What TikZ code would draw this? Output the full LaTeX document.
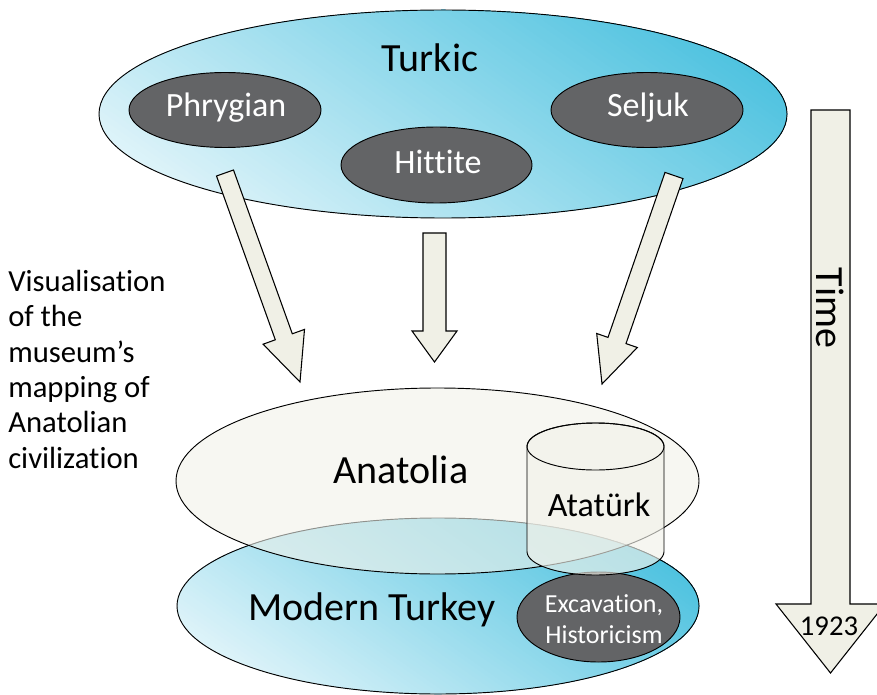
\documentclass[tikz,border=0pt]{standalone}
\usepackage{fontspec}
\setmainfont[Ligatures=NoCommon]{Carlito}
\usetikzlibrary{calc}
\definecolor{tealdark}{HTML}{50C3E0}
\definecolor{teallight}{HTML}{DDF3F9}
\definecolor{beige}{HTML}{F0F0E6}
\definecolor{anafill}{HTML}{F2F2EA}
\definecolor{darkgrey}{HTML}{636466}
\begin{document}
\begin{tikzpicture}[x=0.75pt,y=-0.75pt,
  outline/.style={draw=black, line width=0.7pt},
  darkell/.style={draw=black, line width=0.7pt, fill=darkgrey},
  blockarrow/.style={draw=black, line width=0.8pt, fill=beige, line join=miter},
  lbl/.style={inner sep=0pt, font=\fontsize{30}{36}\selectfont},
  wlbl/.style={inner sep=0pt, text=white, font=\fontsize{25.5}{30}\selectfont},
  semi/.style={draw=black, line width=0.7pt, fill=anafill, fill opacity=0.6},
]
\useasboundingbox (0,0) rectangle (877,695);
\fill[white] (0,0) rectangle (877,695);

% Turkic group
\begin{scope}
  \clip (443,114) ellipse (344 and 104);
  \fill[teallight] (90,0) rectangle (800,230);
  \foreach \i in {0,...,79}{
    \pgfmathsetmacro\pc{100*\i/79}
    \fill[tealdark!\pc!teallight, rotate around={55:(443,114)}]
      ({228+\i*5.375},-400) rectangle (1100,650);
  }
\end{scope}
\path[outline] (443,114) ellipse (344 and 104);
\node[lbl] (turkic) at (430,58) {Turkic};
\path[darkell] (225,110) ellipse (96 and 37.5);
\node[wlbl] (phrygian) at (226,108) {Phrygian};
\path[darkell] (436.5,165) ellipse (95.5 and 38);
\node[wlbl] (hittite) at (438,162) {Hittite};
\path[darkell] (647,110) ellipse (96 and 37.5);
\node[wlbl] (seljuk) at (648,108) {Seljuk};

% block arrows
\path[blockarrow] (216.5,176.0) -- (275.3,339.8) -- (263.1,344.2) -- (300,382)
  -- (304.5,329.4) -- (292.3,333.8) -- (233.5,170.0) -- cycle;
\path[blockarrow] (423,233) -- (423,331) -- (412,331) -- (434.5,362)
  -- (457,331) -- (446,331) -- (446,233) -- cycle;
\path[blockarrow] (665.0,172.4) -- (608.0,337.4) -- (596.7,333.5) -- (602,384)
  -- (637.3,347.5) -- (626.0,343.6) -- (683.0,178.6) -- cycle;

% time arrow
\path[blockarrow] (811,110) -- (811,604) -- (776,604) -- (830.5,673)
  -- (885,604) -- (850,604) -- (850,110) -- cycle;
\node[lbl, rotate=-90] (time) at (830.5,308) {Time};
\node[inner sep=0pt, font=\fontsize{21.5}{26}\selectfont] (year) at (829,626) {1923};

% left caption
\node[inner sep=0pt, anchor=north west, align=left, font=\fontsize{23}{26.5}\selectfont]
  (caption) at (8,270) {Visualisation\\of the\\museum’s\\mapping of\\Anatolian\\civilization};

% bottom group
\begin{scope}
  \clip (438,606) ellipse (261 and 88);
  \fill[teallight] (170,510) rectangle (710,700);
  \foreach \i in {0,...,79}{
    \pgfmathsetmacro\pc{100*\i/79}
    \fill[tealdark!\pc!teallight, rotate around={55:(438,606)}]
      ({272+\i*4.15},100) rectangle (1100,1150);
  }
\end{scope}
\path[outline] (438,606) ellipse (261 and 88);
\path[darkell] (598.5,617) ellipse (81.5 and 45);
\path[semi] (437.5,481) ellipse (261.5 and 93);
\path[semi, fill opacity=0.65] (527,446.5) -- (527,551.5)
  arc[start angle=180, end angle=0, x radius=68.5, y radius=23.5] -- (664,446.5)
  arc[start angle=0, end angle=-180, x radius=68.5, y radius=23.5] -- cycle;
\draw[line width=0.7pt] (595.5,446.5) ellipse (68.5 and 23.5);
\node[lbl] (anatolia) at (401,470) {Anatolia};
\node[lbl] (modern) at (372,610) {Modern Turkey};
\node[inner sep=0pt, font=\fontsize{25.5}{30}\selectfont] (ataturk) at (599,505) {Atatürk};
\node[inner sep=0pt, text=white, align=center, font=\fontsize{19.5}{23.25}\selectfont]
  (excav) at (604,619) {Excavation,\\Historicism};
\end{tikzpicture}
\end{document}
